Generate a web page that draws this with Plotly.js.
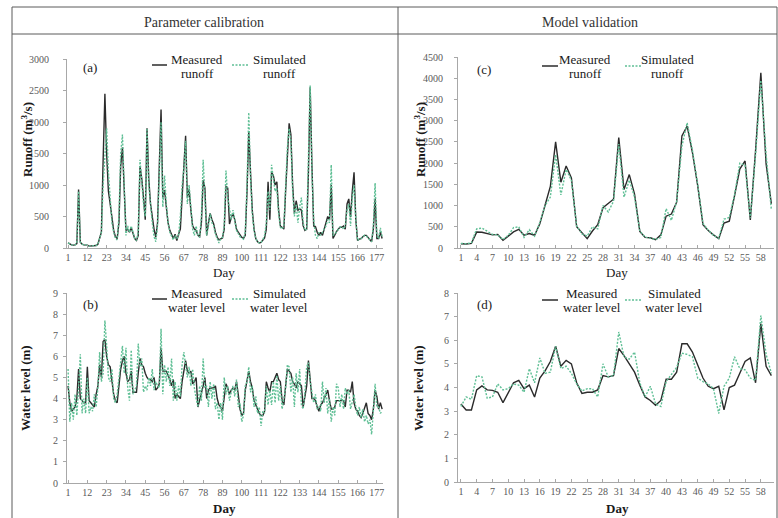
<!DOCTYPE html>
<html>
<head>
<meta charset="utf-8">
<script src="https://cdn.plot.ly/plotly-3.0.1.min.js"></script>
<style>html,body{margin:0;padding:0;background:#fff;}#chart{width:778px;height:518px;}</style>
</head>
<body>
<div id="chart"></div>
<script>
// ---------- DATA ----------
const calibMeasuredRunoff = [80,60,50,45,50,70,930,90,60,50,
50,45,30,30,30,35,40,60,150,250,
1400,2450,1500,900,700,450,280,180,150,400,
1300,1600,900,280,300,250,320,250,150,120,
200,1300,1100,800,450,1900,1100,700,450,300,
170,400,1300,2200,800,920,650,400,280,200,
150,220,120,220,300,800,1300,1780,800,930,
600,350,300,280,200,180,400,1080,950,200,
400,550,450,380,250,170,130,150,160,300,
980,950,380,480,550,450,300,250,200,170,
150,200,900,1850,1200,600,300,150,100,80,
90,120,160,300,1050,450,1200,1150,1000,1050,
600,350,320,300,900,1500,1980,1800,1000,550,
750,600,620,600,350,280,300,1200,2550,1300,
350,340,250,200,250,200,300,400,500,450,
1000,150,220,260,300,330,330,350,300,700,
780,490,900,1200,450,120,140,150,180,200,
200,170,140,100,300,780,150,150,250,150];
const calibSimulatedRunoff = [80,60,50,45,50,70,900,90,60,50,
50,45,30,30,30,35,40,60,150,250,
1000,1500,1900,1200,700,400,250,150,130,500,
1500,1800,1000,200,350,250,350,250,150,120,
250,1400,1000,700,500,1900,1000,650,400,180,
100,350,1200,2000,650,1150,700,400,250,200,
130,200,150,200,500,1000,1250,1700,700,1000,
600,300,200,350,200,170,500,1400,800,200,
350,550,400,350,220,140,80,150,170,350,
1230,800,650,450,600,400,280,230,180,160,
140,250,1000,2150,1100,550,280,150,100,80,
90,130,200,400,900,600,1320,1100,900,950,
550,330,300,350,950,1600,1900,1700,900,500,
700,400,650,800,400,280,300,1300,2580,1200,
450,200,150,250,200,250,300,350,450,400,
1320,200,220,260,300,330,340,300,350,600,
700,350,800,1000,450,120,140,150,180,200,
190,160,140,100,350,1030,200,150,320,180];
const calibMeasuredLevel = [4.6,3.8,3.4,3.5,3.6,4.0,5.4,4.0,3.9,3.8,
3.8,5.5,3.9,3.8,3.7,3.6,4.2,4.6,5.6,5.0,
6.7,6.8,6.0,5.6,5.5,4.8,4.2,3.9,3.8,4.6,
5.4,5.8,6.0,5.2,4.8,4.9,5.3,4.3,4.3,4.3,
5.2,5.9,5.6,5.5,5.2,5.0,4.9,4.9,4.8,5.0,
4.4,4.5,4.7,6.4,5.3,5.3,5.3,5.1,4.9,4.6,
4.9,4.0,4.2,4.1,4.0,4.8,5.3,5.8,5.3,5.2,
5.3,4.7,4.8,5.0,3.6,3.9,4.2,4.6,5.0,4.0,
4.4,4.5,4.5,4.5,4.6,4.0,3.7,3.6,3.4,4.0,
4.7,4.5,4.2,4.4,4.5,4.4,4.8,4.2,3.5,3.2,
3.3,4.4,4.9,5.3,4.8,4.5,3.9,3.7,3.5,3.3,
3.2,3.2,3.4,4.8,4.5,4.3,4.8,4.8,5.0,5.2,
4.9,4.8,3.9,3.7,4.6,5.4,5.3,5.2,4.8,4.7,
4.5,4.8,4.7,4.6,3.6,4.1,4.6,5.8,5.0,4.0,
4.0,3.9,3.6,3.4,3.7,3.8,4.0,4.2,4.4,3.9,
3.5,3.5,3.6,3.9,3.9,3.9,3.9,3.9,3.6,4.4,
4.4,4.3,4.8,3.8,3.5,3.4,3.2,3.1,3.3,3.6,
3.8,3.3,3.2,3.0,3.5,4.4,4.1,3.5,3.8,3.5];
const calibSimulatedLevel = [5.4,2.9,3.8,3.0,4.2,3.2,4.5,6.1,3.3,4.0,
3.3,5.0,3.3,3.6,3.4,4.2,3.6,4.5,6.2,4.8,
5.2,7.7,6.5,5.0,4.8,5.4,4.0,3.8,4.2,5.0,
6.0,6.5,5.2,6.4,4.5,3.9,6.3,4.2,4.4,4.6,
6.6,5.5,5.9,4.3,4.6,4.4,5.0,4.6,5.4,4.4,
4.8,4.6,4.5,7.3,4.2,5.6,4.8,5.5,4.6,5.9,
3.9,4.8,3.9,4.6,4.1,5.6,6.2,5.7,5.0,5.5,
4.6,5.4,4.5,4.0,3.6,4.6,3.9,5.9,4.5,4.6,
3.6,4.8,4.0,4.7,3.5,3.8,3.0,3.8,3.0,5.0,
4.2,4.6,3.9,4.3,4.6,4.1,4.9,3.6,3.8,2.9,
3.2,4.6,4.8,5.5,4.3,4.6,3.6,4.1,3.3,3.6,
2.7,3.4,3.3,4.6,3.7,4.4,3.7,4.8,3.8,5.1,
3.9,4.6,3.5,4.0,4.5,5.6,5.5,4.3,5.0,3.6,
5.2,4.3,5.4,3.7,3.5,4.3,5.5,5.7,4.8,4.3,
3.8,4.2,3.5,3.6,3.4,4.8,3.8,4.5,3.3,4.0,
2.9,3.6,3.2,4.7,4.5,3.6,4.2,3.5,4.5,4.2,
4.4,3.5,3.9,4.2,3.6,3.2,3.6,3.1,3.5,2.9,
3.2,2.8,3.0,2.3,3.4,4.7,3.6,3.6,3.3,3.4];

const validMeasuredRunoff = [100,95,110,375,370,340,310,320,180,280,
380,440,300,340,300,570,1000,1450,2500,1550,
1930,1650,500,350,220,400,550,950,1050,1150,
2600,1375,1730,1270,390,250,240,195,310,750,
800,1080,2640,2870,2250,1470,550,410,310,220,
590,630,1230,1860,2050,660,2300,4130,1980,1040];
const validSimulatedRunoff = [110,100,120,450,470,400,320,310,200,300,
480,500,250,430,280,600,1000,1200,2200,1250,
1850,1600,520,330,280,500,450,1000,850,1100,
2450,1200,1600,1200,400,260,230,200,250,930,
650,1100,2400,2950,2300,1500,580,420,300,230,
680,720,1250,2000,1950,700,2200,3950,2200,900];
const validMeasuredLevel = [3.3,3.05,3.05,3.9,4.07,3.9,3.88,3.8,3.36,3.75,
4.2,4.3,3.95,4.1,3.6,4.4,4.7,5.1,5.75,4.9,
5.15,5.0,4.2,3.75,3.8,3.8,3.9,4.5,4.45,4.5,
5.65,5.35,5.0,4.65,4.1,3.6,3.45,3.25,3.45,4.35,
4.35,4.65,5.85,5.85,5.5,4.95,4.4,4.05,3.95,4.05,
3.05,4.0,4.1,4.6,5.1,5.25,4.2,6.7,4.9,4.5];
const validSimulatedLevel = [3.2,3.6,3.5,4.5,4.45,3.55,3.6,4.15,3.9,3.95,
4.15,4.1,3.8,4.8,4.2,5.25,4.6,4.65,5.75,4.8,
4.9,4.6,4.15,3.85,3.95,3.95,3.6,5.0,4.45,4.5,
6.35,5.3,5.2,5.5,4.2,3.6,4.05,3.3,3.2,4.25,
4.55,4.85,5.45,5.4,5.3,4.4,4.25,4.15,3.95,2.9,
4.05,4.4,5.3,4.8,4.75,4.4,4.3,7.05,5.4,4.6];

const calibTickVals = [1,12,23,34,45,56,67,78,89,100,111,122,133,144,155,166,177];
const validTickVals = [1,4,7,10,13,16,19,22,25,28,31,34,37,40,43,46,49,52,55,58];

const calibDays = calibMeasuredRunoff.map((_, i) => i + 1);
const validDays = validMeasuredRunoff.map((_, i) => i + 1);

// ---------- STYLE ----------
const W = 778, H = 518;
const px = x => x / W;
const py = y => 1 - y / H;
const SERIF = '"Liberation Serif", "Times New Roman", serif';
const measColor = '#2b2b2b';
const simColor = '#5fbf95';
const simDash = '2px,1.5px';
const axisLineColor = '#a8a8a8';
const tickFont = {family: SERIF, size: 10, color: '#595959'};

function mline(x, y, xa, ya) {
  return {x, y, xaxis: xa, yaxis: ya, type: 'scatter', mode: 'lines',
    line: {color: measColor, width: 1.4}, hoverinfo: 'skip', showlegend: false};
}
function sline(x, y, xa, ya) {
  return {x, y, xaxis: xa, yaxis: ya, type: 'scatter', mode: 'lines',
    line: {color: simColor, width: 1.4, dash: simDash}, hoverinfo: 'skip', showlegend: false};
}

const data = [
  mline(calibDays, calibMeasuredRunoff, 'x', 'y'),
  sline(calibDays, calibSimulatedRunoff, 'x', 'y'),
  mline(calibDays, calibMeasuredLevel, 'x2', 'y2'),
  sline(calibDays, calibSimulatedLevel, 'x2', 'y2'),
  mline(validDays, validMeasuredRunoff, 'x3', 'y3'),
  sline(validDays, validSimulatedRunoff, 'x3', 'y3'),
  mline(validDays, validMeasuredLevel, 'x4', 'y4'),
  sline(validDays, validSimulatedLevel, 'x4', 'y4')
];

function xax(domain, range, tickvals, anchor) {
  return {domain, range, anchor, tickmode: 'array', tickvals, ticktext: tickvals.map(String),
    showline: true, linecolor: axisLineColor, linewidth: 1, ticks: 'inside', ticklen: 3,
    tickcolor: axisLineColor, showgrid: false, zeroline: false, tickfont: tickFont, fixedrange: true};
}
function yax(domain, range, dtick, anchor, standoff) {
  return {domain, range, anchor, dtick, tick0: 0, showline: true, linecolor: axisLineColor, linewidth: 1,
    ticks: 'outside', ticklen: 3, tickcolor: axisLineColor, showgrid: false, zeroline: false,
    tickfont: tickFont, ticklabelstandoff: standoff, fixedrange: true};
}

const leftX = [px(67), px(383)];
const rightX = [px(458), px(774)];

const layout = {
  width: W, height: H,
  margin: {l: 0, r: 0, t: 0, b: 0},
  paper_bgcolor: '#ffffff', plot_bgcolor: '#ffffff',
  showlegend: false,
  xaxis: xax(leftX, [0.4, 180.5], calibTickVals, 'y'),
  yaxis: yax([py(248), py(59)], [0, 3000], 500, 'x', 12),
  xaxis2: xax(leftX, [0.4, 180.5], calibTickVals, 'y2'),
  yaxis2: yax([py(483), py(293)], [0, 9], 1, 'x2', 3),
  xaxis3: xax(rightX, [0.45, 60.5], validTickVals, 'y3'),
  yaxis3: yax([py(248), py(57)], [0, 4500], 500, 'x3', 9),
  xaxis4: xax(rightX, [0.45, 60.5], validTickVals, 'y4'),
  yaxis4: yax([py(482), py(293)], [0, 8], 1, 'x4', 3),
  shapes: [],
  annotations: []
};

// frame
const frameColor = '#5a5a5a';
function seg(x0, y0, x1, y1, color, width, dash) {
  layout.shapes.push({type: 'line', xref: 'paper', yref: 'paper',
    x0: px(x0), y0: py(y0), x1: px(x1), y1: py(y1),
    line: {color, width, dash: dash || 'solid'}});
}
seg(12, 7, 777, 7, frameColor, 1);
seg(12, 34, 777, 34, frameColor, 1);
seg(12, 7, 12, 518, frameColor, 1);
seg(398, 7, 398, 518, frameColor, 1);
seg(777, 7, 777, 518, frameColor, 1);

function txt(x, y, text, size, opts) {
  layout.annotations.push(Object.assign({xref: 'paper', yref: 'paper', x: px(x), y: py(y),
    text, showarrow: false, xanchor: 'center', yanchor: 'middle',
    font: {family: SERIF, size, color: '#1a1a1a'}}, opts || {}));
}

// headers
txt(204, 22, 'Parameter calibration', 14, {font: {family: SERIF, size: 14, color: '#333'}});
txt(590, 22, 'Model validation', 14, {font: {family: SERIF, size: 14, color: '#333'}});

// axis titles
txt(27, 140, '<b>Runoff (m<sup>3</sup>/s)</b>', 13, {textangle: -90});
txt(25, 388, '<b>Water level (m)</b>', 13, {textangle: -90});
txt(420, 140, '<b>Runoff (m<sup>3</sup>/s)</b>', 13, {textangle: -90});
txt(418, 388, '<b>Water level (m)</b>', 13, {textangle: -90});
txt(224, 272, 'Day', 13);
txt(224, 508, '<b>Day</b>', 13);
txt(617, 272, 'Day', 13);
txt(617, 508, '<b>Day</b>', 13);

// panel labels
txt(90, 68, '(a)', 13);
txt(90, 304, '(b)', 13);
txt(484, 69, '(c)', 13);
txt(484, 304, '(d)', 13);

// legends
function legend(mx0, mx1, ly, mText, mcx, sx0, sx1, sText, scx, topY) {
  seg(mx0, ly, mx1, ly, measColor, 1.5);
  seg(sx0, ly, sx1, ly, simColor, 1.5, simDash);
  txt(mcx, topY, mText[0], 13);
  txt(mcx, topY + 14, mText[1], 13);
  txt(scx, topY, sText[0], 13);
  txt(scx, topY + 14, sText[1], 13);
}
legend(152, 167, 65, ['Measured', 'runoff'], 197, 232, 248, ['Simulated', 'runoff'], 279, 59);
legend(152, 167, 299, ['Measured', 'water level'], 197, 232, 248, ['Simulated', 'water level'], 279, 293);
legend(542, 558, 66, ['Measured', 'runoff'], 585, 625, 642, ['Simulated', 'runoff'], 667, 59);
legend(542, 558, 300, ['Measured', 'water level'], 592, 625, 642, ['Simulated', 'water level'], 674, 293);

Plotly.newPlot('chart', data, layout, {staticPlot: true, displayModeBar: false});
</script>
</body>
</html>
